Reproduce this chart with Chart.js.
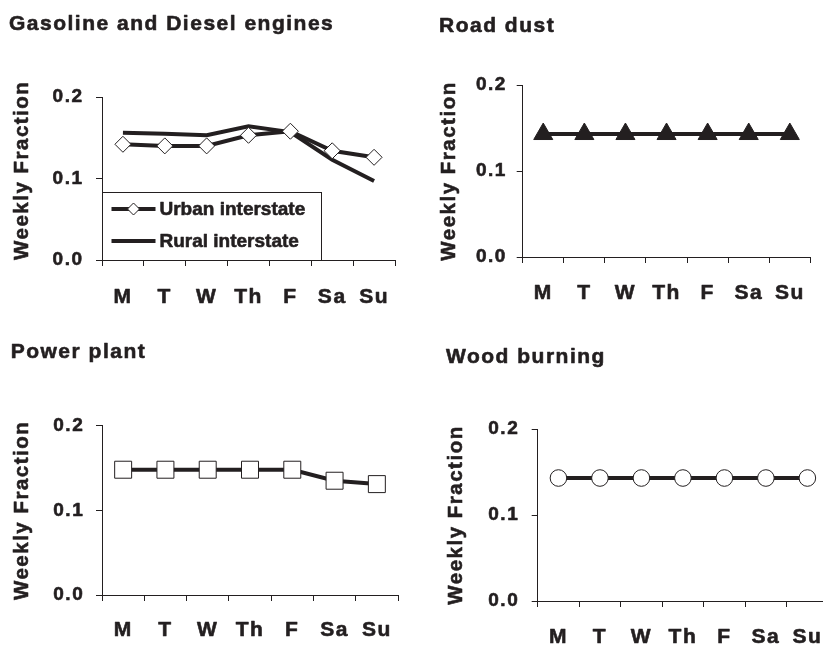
<!DOCTYPE html>
<html><head><meta charset="utf-8">
<script src="https://cdn.jsdelivr.net/npm/chart.js@4.4.1/dist/chart.umd.min.js"></script>
<style>
html,body{margin:0;padding:0;background:#fff;width:823px;height:647px;overflow:hidden;position:relative}
canvas{position:absolute}
</style></head><body>
<canvas id="c1" width="411" height="320" style="left:0;top:0;width:411px;height:320px"></canvas>
<canvas id="c2" width="412" height="320" style="left:411px;top:0;width:412px;height:320px"></canvas>
<canvas id="c3" width="411" height="327" style="left:0;top:320px;width:411px;height:327px"></canvas>
<canvas id="c4" width="430" height="327" style="left:411px;top:320px;width:430px;height:327px"></canvas>
<script>
// ---- data ----
const days = ['M', 'T', 'W', 'Th', 'F', 'Sa', 'Su'];
const urbanInterstate = [0.142, 0.140, 0.140, 0.153, 0.158, 0.134, 0.126];
const ruralInterstate = [0.156, 0.155, 0.153, 0.164, 0.157, 0.123, 0.097];
const roadDust = [0.143, 0.143, 0.143, 0.143, 0.143, 0.143, 0.143];
const powerPlant = [0.148, 0.148, 0.148, 0.148, 0.148, 0.135, 0.131];
const woodBurning = [0.143, 0.143, 0.143, 0.143, 0.143, 0.143, 0.143];
const yTicks = [0.0, 0.1, 0.2];
const panelTitles = ['Gasoline and Diesel engines', 'Road dust', 'Power plant', 'Wood burning'];
const yAxisTitle = 'Weekly Fraction';
const seriesNames = ['Urban interstate', 'Rural interstate'];

// ---- style ----
const INK = '#231f20';
const FAMILY = '"Liberation Sans", Arial, Helvetica, sans-serif';
const SPACING = 1.5;
const TITLE_SIZE = 21, XTICK_SIZE = 21, YTICK_SIZE = 19, YTITLE_SIZE = 20.5, LEGEND_SIZE = 19;
Chart.defaults.font.family = FAMILY;
Chart.defaults.color = INK;

// slightly heavier text (the reference type is very heavy) and a little tracking
const typePlugin = {
  id: 'typeStyle',
  beforeInit(chart) {
    const ctx = chart.ctx;
    const fill = CanvasRenderingContext2D.prototype.fillText;
    const stroke = CanvasRenderingContext2D.prototype.strokeText;
    ctx.fillText = function (t, x, y, mw) {
      if (mw === undefined) fill.call(this, t, x, y); else fill.call(this, t, x, y, mw);
      this.save();
      this.strokeStyle = this.fillStyle; this.lineWidth = 0.6; this.lineJoin = 'round';
      if (mw === undefined) stroke.call(this, t, x, y); else stroke.call(this, t, x, y, mw);
      this.restore();
    };
  },
  beforeLayout(chart) { chart.ctx.letterSpacing = SPACING + 'px'; },
  beforeDraw(chart) { chart.ctx.letterSpacing = SPACING + 'px'; }
};

const boxLegend = {
  id: 'boxLegend',
  afterDraw(chart) {
    const opts = chart.options.plugins.boxLegend;
    if (!opts || !opts.display) return;
    const ctx = chart.ctx;
    const a = chart.chartArea;
    const left = a.left + 0.5, bottom = a.bottom, w = 219, h = 68;
    ctx.save();
    ctx.letterSpacing = '0px';
    ctx.fillStyle = '#fff';
    ctx.fillRect(left, bottom - h, w, h);
    ctx.strokeStyle = INK; ctx.lineWidth = 1;
    ctx.strokeRect(left, bottom - h + 0.5, w, h);
    const rows = [bottom - 51, bottom - 19];
    chart.data.datasets.forEach((ds, i) => {
      const y = rows[i];
      ctx.strokeStyle = ds.borderColor; ctx.lineWidth = ds.borderWidth; ctx.lineCap = 'butt';
      ctx.beginPath(); ctx.moveTo(left + 9, y); ctx.lineTo(left + 53, y); ctx.stroke();
      if (ds.pointRadius > 0) {
        ctx.fillStyle = ds.pointBackgroundColor; ctx.strokeStyle = ds.pointBorderColor; ctx.lineWidth = 1;
        Chart.helpers.drawPoint(ctx, {pointStyle: ds.pointStyle, radius: 6, rotation: 0, borderWidth: 1}, left + 31, y);
      }
      ctx.fillStyle = INK;
      ctx.font = 'bold ' + LEGEND_SIZE + 'px ' + FAMILY;
      ctx.textBaseline = 'middle'; ctx.textAlign = 'left';
      ctx.fillText(ds.label, left + 57, y + 1);
    });
    ctx.restore();
  }
};

function lineSet(label, data, style, radius, fill) {
  return {
    label, data,
    borderColor: INK, borderWidth: 4, tension: 0, fill: false,
    pointStyle: style || 'circle', pointRadius: radius, pointHoverRadius: radius,
    pointBackgroundColor: fill, pointBorderColor: INK, pointBorderWidth: 1
  };
}

function makePanel(id, g, title, datasets, legend) {
  const tLH = TITLE_SIZE * 1.2, xLH = XTICK_SIZE * 1.2;
  new Chart(document.getElementById(id), {
    type: 'line',
    data: { labels: days, datasets },
    plugins: [typePlugin, boxLegend],
    options: {
      responsive: false, animation: false, devicePixelRatio: 1, events: [],
      layout: { padding: { left: g.TL, right: g.W - g.R, top: 0, bottom: 0 } },
      plugins: {
        legend: { display: false }, tooltip: { enabled: false },
        boxLegend: { display: !!legend },
        title: {
          display: true, text: title, align: 'start', color: INK,
          font: { size: TITLE_SIZE, weight: 'bold', lineHeight: 1.2 },
          padding: { top: g.TC - tLH / 2, bottom: g.T - g.TC - tLH / 2 }
        }
      },
      scales: {
        x: {
          type: 'category', offset: true,
          grid: { offset: true, drawOnChartArea: false, drawTicks: true, tickLength: 6, color: INK, lineWidth: 1 },
          border: { display: true, color: INK, width: 1 },
          ticks: { color: INK, font: { size: XTICK_SIZE, weight: 'bold', lineHeight: 1.2 }, padding: g.XC - g.B - 6 - xLH / 2, maxRotation: 0, minRotation: 0, autoSkip: false },
          afterFit(s) { s.height = g.H - g.B; }
        },
        y: {
          min: yTicks[0], max: yTicks[yTicks.length - 1],
          afterBuildTicks(s) { s.ticks = yTicks.map(v => ({ value: v })); },
          grid: { drawOnChartArea: false, drawTicks: true, tickLength: 6, color: INK, lineWidth: 1 },
          border: { display: true, color: INK, width: 1 },
          ticks: { color: INK, font: { size: YTICK_SIZE, weight: 'bold' }, padding: g.L - 6 - g.YR - SPACING, callback: v => Number(v).toFixed(1) },
          title: { display: true, text: yAxisTitle, color: INK, align: g.YA || 'center', font: { size: YTITLE_SIZE, weight: 'bold', lineHeight: 1 }, padding: { top: g.YT - g.TL - YTITLE_SIZE / 2, bottom: 0 } },
          afterFit(s) { s.width = g.L - g.TL; }
        }
      }
    }
  });
}

makePanel('c1', {W:411,H:320,L:102,R:395,T:97,B:260,TL:9,TC:24.2,XC:297.5,YR:82,YT:22.5,YA:'start'}, panelTitles[0], [
  lineSet(seriesNames[0], urbanInterstate, 'rectRot', 8, '#fff'),
  lineSet(seriesNames[1], ruralInterstate, 'circle', 0, INK)
], true);
makePanel('c2', {W:412,H:320,L:111.7,R:408,T:85,B:257,TL:28,TC:25.8,XC:293,YR:94.3,YT:38.4}, panelTitles[1], [
  lineSet(panelTitles[1], roadDust, 'triangle', 11, INK)
], false);
makePanel('c3', {W:411,H:327,L:102,R:398,T:105.7,B:275,TL:10.7,TC:32.5,XC:310.5,YR:82.7,YT:22.5}, panelTitles[2], [
  lineSet(panelTitles[2], powerPlant, 'rect', 12, '#fff')
], false);
makePanel('c4', {W:430,H:327,L:126.7,R:418.6,T:109,B:281,TL:35,TC:37,XC:317.5,YR:106.7,YT:45.8}, panelTitles[3], [
  lineSet(panelTitles[3], woodBurning, 'circle', 8.3, '#fff')
], false);
</script>
</body></html>
